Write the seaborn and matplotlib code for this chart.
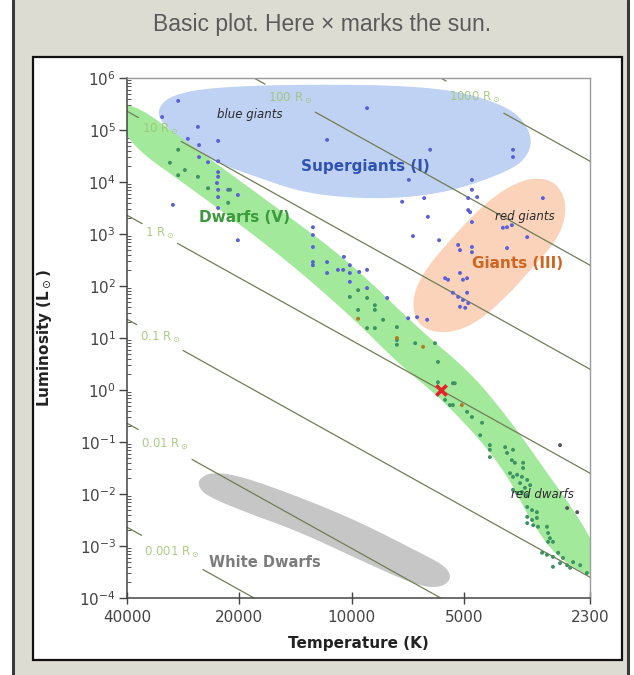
import numpy as np
import pandas as pd
import matplotlib
matplotlib.use("Agg")
import matplotlib.pyplot as plt
from matplotlib.patches import Rectangle
from matplotlib.ticker import FixedLocator, LogLocator, FuncFormatter, NullFormatter, NullLocator
import seaborn as sns

# DATA (log10 T [K], log10 L [Lsun])
T_SUN = 5778
radii = [0.001, 0.01, 0.1, 1, 10, 100, 1000]
radius_label_logt = [4.481, 4.500, 4.514, 4.514, 4.514, 4.165, 3.670]

x_ticks = [40000, 20000, 10000, 5000, 2300]

blue_stars = [(4.465, 5.56), (4.508, 5.25), (4.412, 5.06), (4.439, 4.83), (4.358, 4.79), (4.409, 4.71),
              (4.385, 4.38), (4.358, 4.40), (4.409, 4.48), (4.358, 4.19), (4.358, 4.10), (4.361, 3.98),
              (4.331, 3.85), (4.305, 3.75), (4.358, 3.85), (4.358, 3.71), (4.358, 3.50), (4.479, 3.56),
              (4.305, 2.88), (4.066, 4.81), (3.959, 5.42), (3.790, 4.62), (3.847, 4.04), (3.865, 3.62),
              (3.806, 3.69), (3.796, 3.33), (3.836, 2.96), (3.766, 2.88), (3.678, 4.04), (3.678, 3.85),
              (3.688, 3.69), (3.683, 3.42), (3.678, 3.23), (3.568, 4.62), (3.568, 4.48), (3.664, 3.71),
              (3.688, 3.46), (3.488, 3.69), (3.595, 3.12), (3.584, 3.13), (3.571, 3.17), (3.530, 2.94),
              (3.715, 2.79), (3.710, 2.69), (3.678, 2.75), (3.678, 2.65), (3.584, 2.73), (3.710, 2.25),
              (3.750, 2.15), (3.742, 2.12), (3.702, 2.12), (3.691, 2.15), (3.729, 1.87), (3.715, 1.79),
              (3.702, 1.73), (3.691, 1.87), (3.688, 1.67), (3.710, 1.60), (3.696, 1.58), (3.849, 1.38),
              (3.825, 1.40), (3.798, 1.35), (4.104, 3.13), (4.104, 2.98), (4.104, 2.75), (4.104, 2.46),
              (4.104, 2.40), (4.066, 2.46), (4.066, 2.25), (4.021, 2.56), (4.037, 2.31), (4.023, 2.31),
              (4.005, 2.40), (4.005, 2.25), (3.980, 2.27), (3.959, 2.31), (4.005, 2.08), (3.959, 1.96),
              (3.905, 1.77)]

green_stars = [(4.465, 4.62), (4.487, 4.37), (4.465, 4.13), (4.447, 4.23), (4.412, 4.10), (4.385, 3.88),
               (4.331, 3.60), (4.326, 3.85), (4.005, 1.79), (3.983, 1.92), (3.959, 1.77), (3.938, 1.63),
               (3.983, 1.54), (3.938, 1.54), (3.916, 1.35), (3.959, 1.19), (3.938, 1.19), (3.879, 1.21),
               (3.879, 0.96), (3.879, 0.87), (3.830, 0.90), (3.777, 0.90), (3.769, 0.54), (3.729, 0.13),
               (3.769, 0.15), (3.724, 0.13), (3.750, -0.19), (3.737, -0.29), (3.729, -0.29), (3.691, -0.42),
               (3.678, -0.52), (3.651, -0.63), (3.656, -0.87), (3.630, -1.06), (3.630, -1.15), (3.630, -1.29),
               (3.589, -1.10), (3.584, -1.21), (3.568, -1.15), (3.571, -1.35), (3.563, -1.40), (3.541, -1.40),
               (3.541, -1.50), (3.576, -1.60), (3.568, -1.67), (3.557, -1.63), (3.544, -1.67), (3.530, -1.73),
               (3.549, -1.79), (3.522, -1.83), (3.536, -1.88), (3.568, -1.92), (3.557, -1.98), (3.544, -1.96),
               (3.530, -2.02), (3.530, -2.25), (3.517, -2.31), (3.504, -2.35), (3.530, -2.44), (3.517, -2.50),
               (3.504, -2.46), (3.530, -2.56), (3.514, -2.60), (3.501, -2.63), (3.477, -2.63), (3.474, -2.75),
               (3.469, -2.85), (3.461, -2.92), (3.474, -2.92), (3.490, -3.13), (3.477, -3.17), (3.461, -3.21),
               (3.447, -3.13), (3.434, -3.23), (3.461, -3.40), (3.442, -3.33), (3.423, -3.37), (3.407, -3.31),
               (3.415, -3.42), (3.388, -3.37), (3.370, -3.52)]

orange_stars = [(3.983, 1.37), (3.879, 1.00), (3.809, 0.83), (3.705, -0.29)]
dark_stars = [(3.442, -1.06), (3.423, -2.27), (3.396, -2.35)]

# region outlines
supergiants_outline = [(4.519, 5.42), (4.487, 5.65), (4.406, 5.79), (4.272, 5.85), (4.139, 5.87), (4.005, 5.87),
                       (3.871, 5.85), (3.737, 5.77), (3.630, 5.58), (3.549, 5.29), (3.514, 4.81), (3.536, 4.42),
                       (3.589, 4.19), (3.683, 3.94), (3.763, 3.79), (3.871, 3.69), (4.005, 3.69), (4.139, 3.81),
                       (4.264, 4.12), (4.380, 4.42), (4.473, 4.90), (4.514, 5.19)]
dwarfs_outline = [(4.621, 5.71), (4.406, 4.58), (4.192, 3.46), (4.005, 2.46), (3.817, 1.15), (3.683, 0.35),
                  (3.576, -0.58), (3.482, -1.54), (3.415, -2.21), (3.348, -2.98), (3.335, -3.69), (3.450, -3.23),
                  (3.522, -2.50), (3.576, -1.73), (3.648, -1.02), (3.763, -0.15), (3.871, 0.48), (4.005, 1.44),
                  (4.192, 2.60), (4.406, 3.75), (4.621, 4.85)]
giants_outline = [(3.589, 3.88), (3.522, 4.08), (3.463, 4.04), (3.431, 3.75), (3.426, 3.37), (3.447, 2.92),
                  (3.509, 2.40), (3.589, 1.77), (3.662, 1.31), (3.731, 1.10), (3.796, 1.13), (3.833, 1.38),
                  (3.836, 1.83), (3.804, 2.31), (3.737, 2.88), (3.662, 3.46)]
white_dwarfs_outline = [(4.406, -1.69), (4.374, -1.58), (4.299, -1.65), (4.139, -2.06), (3.978, -2.54),
                        (3.817, -3.13), (3.750, -3.38), (3.731, -3.62), (3.763, -3.81), (3.830, -3.75),
                        (3.978, -3.27), (4.139, -2.73), (4.299, -2.31), (4.393, -2.02), (4.412, -1.83)]

# name, log T, log L, colour, size, style, weight
region_labels = [("blue giants", 4.272, 5.29, "#2a2a2a", 8.5, "italic", "normal"),
                 ("Supergiants (I)", 3.964, 4.29, "#2f52b4", 11, "normal", "bold"),
                 ("Dwarfs (V)", 4.286, 3.31, "#3b9a3b", 11, "normal", "bold"),
                 ("red giants", 3.536, 3.33, "#2a2a2a", 8.5, "italic", "normal"),
                 ("Giants (III)", 3.555, 2.44, "#d0651f", 11, "normal", "bold"),
                 ("red dwarfs", 3.488, -2.0, "#2a2a2a", 8.5, "italic", "normal"),
                 ("White Dwarfs", 4.232, -3.31, "#7c7c7c", 10.5, "normal", "bold")]


def smooth_closed(points, n=3):
    p = np.array(points, dtype=float)
    for _ in range(n):
        q = np.roll(p, -1, axis=0)
        p = np.column_stack([0.75 * p + 0.25 * q, 0.25 * p + 0.75 * q]).reshape(-1, 2)
    return 10 ** p[:, 0], 10 ** p[:, 1]


def radius_lum(r, t):
    return r ** 2 * (t / T_SUN) ** 4


sns.set_theme(style="white")
plt.rcParams["font.family"] = ["DejaVu Sans"]

fig = plt.figure(figsize=(6.34, 6.75), dpi=100)
fig.patch.set_facecolor("white")
fig.add_artist(Rectangle((14 / 634, 0), 613 / 634, 1, transform=fig.transFigure,
                         fc="#dcdcd3", ec="none", zorder=-3))
for xpos in (13 / 634, 628 / 634):
    fig.add_artist(plt.Line2D([xpos, xpos], [0, 1], transform=fig.transFigure,
                              color="#3a3a3a", lw=2.2, zorder=-2))
fig.add_artist(Rectangle((33 / 634, 1 - 660 / 675), 589 / 634, 603 / 675, transform=fig.transFigure,
                         fc="white", ec="#111111", lw=1.6, zorder=-1))
fig.text(322 / 634, 1 - 25 / 675, "Basic plot. Here \u00d7 marks the sun.", ha="center", va="center",
         fontsize=16.5, color="#5a5a5a", family=["Liberation Sans Narrow", "Liberation Sans", "DejaVu Sans"])

ax = fig.add_axes([127 / 634, 1 - 598 / 675, 463 / 634, 520 / 675])
ax.set_facecolor("white")
ax.set_xscale("log")
ax.set_yscale("log")
ax.set_xlim(40000, 2300)
ax.set_ylim(1e-4, 1e6)

region_styles = [(supergiants_outline, "#bfd2f3"), (dwarfs_outline, "#a3e99b"),
                 (giants_outline, "#fad3ba"), (white_dwarfs_outline, "#c6c6c6")]
for outline, col in region_styles:
    tx, ly = smooth_closed(outline)
    ax.fill(tx, ly, color=col, lw=0, zorder=1)

# radius labels first, so the lines can leave a gap for them
radius_texts = []
for r, lt in zip(radii, radius_label_logt):
    t = 10 ** lt
    txt = ax.text(t, radius_lum(r, t), f"{r:g} R$_\\odot$", ha="center", va="center",
                  fontsize=8.5, color="#9cc46e", alpha=0.85, zorder=3)
    radius_texts.append(txt)

fig.canvas.draw()
renderer = fig.canvas.get_renderer()
inv = ax.transData.inverted()

# constant-radius lines, L = R^2 (T/Tsun)^4, broken around their labels
rows = []
for r, txt in zip(radii, radius_texts):
    bb = txt.get_window_extent(renderer)
    t_hi = inv.transform((bb.x0 - 3, bb.y0))[0]
    t_lo = inv.transform((bb.x1 + 3, bb.y0))[0]
    for seg, (ta, tb) in enumerate([(60000.0, t_hi), (t_lo, 1500.0)]):
        for t in (ta, tb):
            rows.append({"line": f"{r}-{seg}", "temp": t, "lum": radius_lum(r, t)})
lines_df = pd.DataFrame(rows)
sns.lineplot(data=lines_df, x="temp", y="lum", units="line", estimator=None, sort=False,
             color="#707d55", lw=0.9, ax=ax, zorder=2, legend=False)

stars = pd.concat([pd.DataFrame(blue_stars, columns=["logt", "logl"]).assign(kind="blue"),
                   pd.DataFrame(green_stars, columns=["logt", "logl"]).assign(kind="green"),
                   pd.DataFrame(orange_stars, columns=["logt", "logl"]).assign(kind="orange"),
                   pd.DataFrame(dark_stars, columns=["logt", "logl"]).assign(kind="dark")])
stars["temp"] = 10 ** stars["logt"]
stars["lum"] = 10 ** stars["logl"]
palette = {"blue": "#5b5fd8", "green": "#3e9262", "orange": "#b07a26", "dark": "#55555f"}
sns.scatterplot(data=stars, x="temp", y="lum", hue="kind", palette=palette, s=8,
                linewidth=0, legend=False, ax=ax, zorder=4)

ax.scatter([T_SUN], [1.0], marker="x", s=55, linewidths=2.6, color="#e62228", zorder=5)

for name, lt, ll, col, fs, style, weight in region_labels:
    ax.text(10 ** lt, 10 ** ll, name, ha="center", va="center", color=col, fontsize=fs,
            fontstyle=style, fontweight=weight, zorder=6)

ax.set_xlim(40000, 2300)
ax.set_ylim(1e-4, 1e6)

ax.xaxis.set_major_locator(FixedLocator(x_ticks))
ax.xaxis.set_major_formatter(FuncFormatter(lambda v, p: f"{v:.0f}"))
ax.xaxis.set_minor_locator(NullLocator())
ax.yaxis.set_major_locator(LogLocator(base=10, numticks=20))
ax.yaxis.set_major_formatter(FuncFormatter(lambda v, p: f"$10^{{{int(round(np.log10(v)))}}}$"))
ax.yaxis.set_minor_locator(LogLocator(base=10, subs=np.arange(2, 10), numticks=20))
ax.yaxis.set_minor_formatter(NullFormatter())

ax.tick_params(axis="x", which="major", direction="inout", length=9, width=1, colors="#444444",
               labelsize=11, pad=4, bottom=True)
ax.tick_params(axis="y", which="major", direction="out", length=6, width=1, colors="#444444",
               labelsize=11, pad=2, left=True)
ax.tick_params(axis="y", which="minor", direction="in", length=3, width=0.7, color="#555555", left=True)

for side in ["left", "bottom"]:
    ax.spines[side].set_color("#444444")
    ax.spines[side].set_linewidth(1.1)
for side in ["top", "right"]:
    ax.spines[side].set_color("#9a9a9a")
    ax.spines[side].set_linewidth(1.0)

ax.set_xlabel("Temperature (K)", fontsize=11, fontweight="bold", color="#222222")
ax.set_ylabel("Luminosity (L$_\\odot$)", fontsize=11, fontweight="bold", color="#222222")
ax.xaxis.label.set_va("center")
ax.yaxis.label.set_va("center")
ax.xaxis.set_label_coords(0.5, -0.087)
ax.yaxis.set_label_coords(-0.177, 0.5)

fig.savefig("out.png", dpi=100)
